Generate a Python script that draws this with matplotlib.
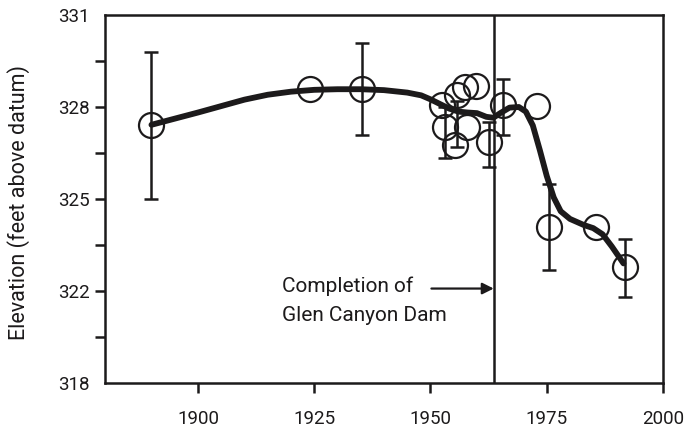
import matplotlib.pyplot as plt
import numpy as np

plt.rcParams['font.family'] = ['Roboto', 'DejaVu Sans']
ink = '#1c1a1b'

# measured elevations (circles)
years = [1890, 1924, 1935.3, 1952.5, 1953.1, 1955.7, 1955.3, 1957.8, 1957.4,
         1959.8, 1962.6, 1965.6, 1972.9, 1975.5, 1985.6, 1991.8]
elev = [327.42, 328.6, 328.6, 328.05, 327.35, 328.4, 326.75, 327.35, 328.65,
        328.7, 326.85, 328.07, 328.02, 324.1, 324.1, 322.77]

# error bars: year, centre, low, high
err_years = [1890, 1935.3, 1953.1, 1955.7, 1962.6, 1965.6, 1975.5, 1991.8]
err_mid = [327.42, 328.6, 327.35, 327.5, 326.85, 328.07, 324.1, 322.77]
err_lo = [325.0, 327.1, 326.35, 326.7, 326.05, 327.1, 322.7, 321.8]
err_hi = [329.8, 330.1, 328.0, 328.2, 327.5, 328.9, 325.5, 323.7]

# smoothed trend line
trend_years = [1890, 1895, 1900, 1905, 1910, 1915, 1920, 1925, 1930, 1935, 1940,
               1945, 1948, 1950, 1952, 1954, 1956, 1958, 1960, 1962, 1963.5,
               1965, 1967, 1969, 1970.5, 1972, 1973.5, 1975, 1976.5, 1978, 1980,
               1983, 1985, 1987, 1989, 1991.5]
trend_elev = [327.42, 327.62, 327.82, 328.03, 328.24, 328.40, 328.50, 328.56,
              328.58, 328.58, 328.55, 328.47, 328.38, 328.25, 328.10, 327.95,
              327.85, 327.82, 327.80, 327.68, 327.65, 327.80, 327.98, 328.0,
              327.85, 327.4, 326.6, 325.75, 325.05, 324.6, 324.35, 324.15,
              324.05, 323.85, 323.45, 322.9]

dam_year = 1963.7
ytick_pos = [319, 322, 325, 328, 331]
ytick_labels = ['318', '322', '325', '328', '331']
xticks = [1900, 1925, 1950, 1975, 2000]

fig = plt.figure(figsize=(6.86, 4.30), dpi=100)
ax = fig.add_axes([0.153, 0.1093, 0.8135, 0.8558])

ax.plot(trend_years, trend_elev, color=ink, lw=4.2, solid_capstyle='round',
        solid_joinstyle='round', zorder=3)
ax.plot(years, elev, 'o', ms=18, mfc='none', mec=ink, mew=1.6, zorder=4)
err_mid = np.array(err_mid)
ax.errorbar(err_years, err_mid,
            yerr=[err_mid - np.array(err_lo), np.array(err_hi) - err_mid],
            fmt='none', ecolor=ink, elinewidth=1.8, capsize=4.8, capthick=1.8,
            zorder=2)

ax.axvline(dam_year, color=ink, lw=1.8, zorder=1)
ax.annotate('', xy=(dam_year - 0.1, 322.08), xytext=(1950.2, 322.08),
            arrowprops=dict(arrowstyle='-|>', color=ink, lw=1.6,
                            mutation_scale=17, shrinkA=0, shrinkB=0))
ax.text(1918.1, 321.96, 'Completion of', fontsize=15, color=ink,
        ha='left', va='baseline')
ax.text(1918.1, 321.02, 'Glen Canyon Dam', fontsize=15, color=ink,
        ha='left', va='baseline')

ax.set_xlim(1880, 2000)
ax.set_ylim(319, 331)
ax.set_xticks(xticks)
ax.set_yticks(ytick_pos)
ax.set_yticklabels(ytick_labels)
ax.set_yticks([320.5, 323.5, 326.5, 329.5], minor=True)
ax.tick_params(axis='both', which='both', direction='out', length=7.2,
               width=1.8, color=ink, labelcolor=ink, labelsize=13.5)
ax.tick_params(axis='x', pad=12)
ax.tick_params(axis='y', pad=4)
ymaj = ax.yaxis.get_major_ticks()
ymaj[0].tick1line.set_visible(False)
ymaj[-1].tick1line.set_visible(False)

for s in ax.spines.values():
    s.set_linewidth(1.8)
    s.set_color(ink)

ax.set_ylabel('Elevation (feet above datum)', fontsize=15.5, color=ink)
ax.yaxis.set_label_coords(-0.135, 0.49)

fig.savefig('out.png', dpi=100)
